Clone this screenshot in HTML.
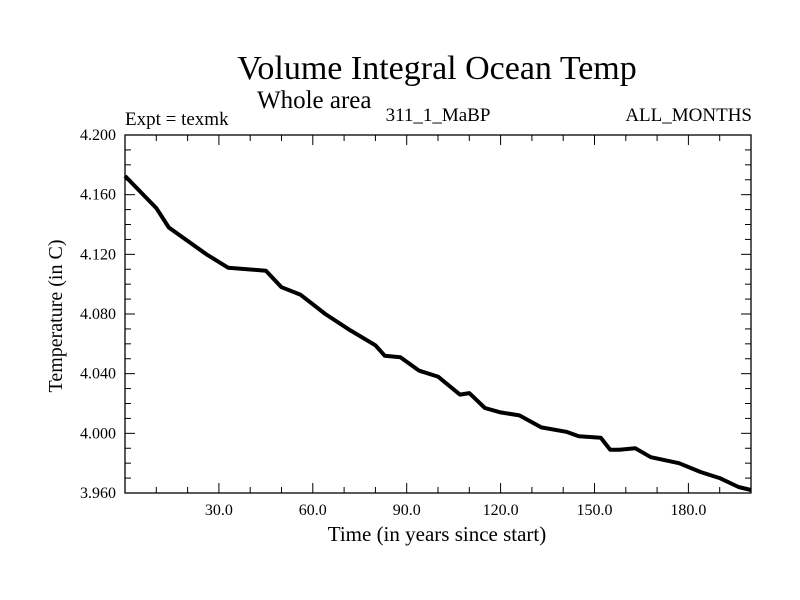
<!DOCTYPE html>
<html><head><meta charset="utf-8"><style>
html,body{margin:0;padding:0;background:#fff}
svg{display:block;font-family:"Liberation Serif",serif}
</style></head><body>
<svg width="800" height="600">
<text x="437" y="79" font-size="34" text-anchor="middle">Volume Integral Ocean Temp</text>
<text x="257" y="108" font-size="25">Whole area</text>
<text x="125" y="125" font-size="19">Expt = texmk</text>
<text x="438" y="121" font-size="19" text-anchor="middle">311_1_MaBP</text>
<text x="752" y="121" font-size="19" text-anchor="end">ALL_MONTHS</text>
<text x="437" y="541" font-size="21" text-anchor="middle">Time (in years since start)</text>
<text transform="translate(62,316) rotate(-90)" font-size="20" text-anchor="middle">Temperature (in C)</text>
<g id="axes"></g>
<g id="series"></g>
</svg>
<script>
const years=[0,10,14,26,33,45,50,56,64,72,80,83,88,94,100,107,110,115,120,126,133,141,145,152,155,158,163,168,177,184,190,196,200];
const temps=[4.1725,4.151,4.138,4.120,4.111,4.109,4.098,4.093,4.080,4.069,4.059,4.052,4.051,4.042,4.038,4.026,4.027,4.017,4.014,4.012,4.004,4.001,3.998,3.997,3.989,3.989,3.990,3.984,3.980,3.974,3.970,3.964,3.962];
const xTickLabels=["30.0","60.0","90.0","120.0","150.0","180.0"];
const yTickLabels=["3.960","4.000","4.040","4.080","4.120","4.160","4.200"];
const L=125,R=751,T=135,B=493,x0=0,x1=200,y0=3.96,y1=4.2;
const sx=v=>L+(v-x0)/(x1-x0)*(R-L);
const sy=v=>B-(v-y0)/(y1-y0)*(B-T);
const NS="http://www.w3.org/2000/svg";
const ax=document.getElementById('axes');
function mk(t,a,p){const e=document.createElementNS(NS,t);for(const k in a)e.setAttribute(k,a[k]);p.appendChild(e);return e;}
const frame=mk('rect',{x:L,y:T,width:R-L,height:B-T,fill:'none',stroke:'#000','stroke-width':1.3},ax);


for(let v=10;v<200;v+=10){const big=v%30===0,len=big?10:6;const x=sx(v);
 mk('line',{x1:x,x2:x,y1:B,y2:B-len,stroke:'#000'},ax);mk('line',{x1:x,x2:x,y1:T,y2:T+len,stroke:'#000'},ax);}
for(let i=1;i<24;i++){const v=y0+i*0.01,big=i%4===0,len=big?10:6;const y=sy(v);
 mk('line',{x1:L,x2:L+len,y1:y,y2:y,stroke:'#000'},ax);mk('line',{x1:R,x2:R-len,y1:y,y2:y,stroke:'#000'},ax);}
xTickLabels.forEach(s=>{const t=mk('text',{x:sx(parseFloat(s)),y:515,'font-size':16,'text-anchor':'middle'},ax);t.textContent=s;
 
 });
yTickLabels.forEach(s=>{const t=mk('text',{x:116,y:sy(parseFloat(s))+5,'font-size':16,'text-anchor':'end'},ax);t.textContent=s;
 
 });
const d=years.map((v,i)=>(i?'L':'M')+sx(v).toFixed(1)+','+sy(temps[i]).toFixed(1)).join('');
const p=mk('path',{d:d,fill:'none',stroke:'#000','stroke-width':4,'stroke-linejoin':'round'},document.getElementById('series'));


</script>
</body></html>
